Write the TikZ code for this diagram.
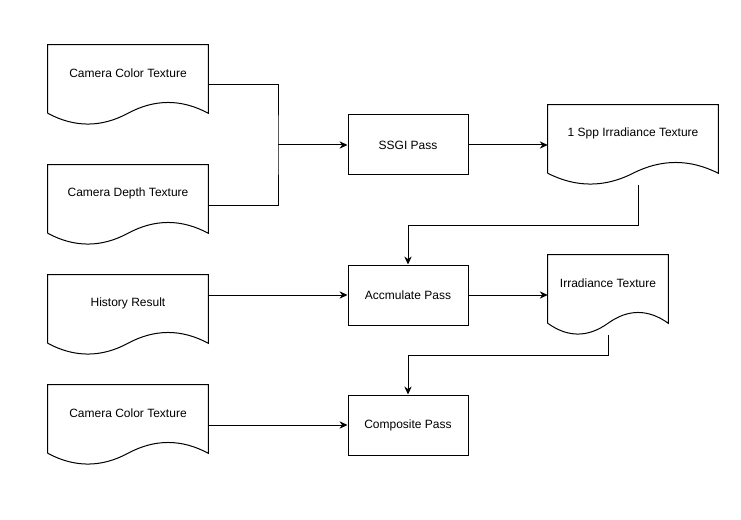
\documentclass[tikz,border=0pt]{standalone}
\usepackage{fontspec}
\setmainfont{Liberation Sans}
\usetikzlibrary{arrows.meta,calc}

\tikzset{
    flow/.style={line width=0.75pt, -{Stealth[length=6pt,width=5.5pt]}},
    pass/.style={draw, line width=0.75pt, minimum width=90pt, minimum height=45pt, inner sep=0pt, font=\fontsize{9pt}{11pt}\selectfont},
    texbox/.style={minimum height=60pt, inner sep=0pt},
    texlabel/.style={font=\fontsize{9pt}{11pt}\selectfont, yshift=9pt}
}

% document outline with the wavy bottom edge
\newcommand{\docoutline}[1]{%
    \draw[line width=0.75pt]
        ($(#1.south west)+(0,-12)$) -- (#1.north west) -- (#1.north east)
        -- ($(#1.south east)+(0,-12)$)
        .. controls ($(#1.south east)!1/6!(#1.south west)+(0,-26.4)$)
                and ($(#1.south east)!1/3!(#1.south west)+(0,-26.4)$)
        .. ($(#1.south)+(0,-12)$)
        .. controls ($(#1.south east)!2/3!(#1.south west)+(0,2.4)$)
                and ($(#1.south east)!5/6!(#1.south west)+(0,2.4)$)
        .. ($(#1.south west)+(0,-12)$);
}

\begin{document}
\begin{tikzpicture}[x=0.75pt, y=-0.75pt]
    \useasboundingbox (0,0) rectangle (741,520);

    % Input textures
    \node[texbox, minimum width=120pt, label={[texlabel]center:Camera Color Texture}] (colorA) at (128,85) {};
    \node[texbox, minimum width=120pt, label={[texlabel]center:Camera Depth Texture}] (depth) at (128,205) {};
    \node[texbox, minimum width=120pt, label={[texlabel]center:History Result}] (history) at (128,315) {};
    \node[texbox, minimum width=120pt, label={[texlabel]center:Camera Color Texture}] (colorB) at (128,425) {};

    % Passes
    \node[pass] (ssgi) at (408,145) {SSGI Pass};
    \node[pass] (accum) at (408,295) {Accmulate Pass};
    \node[pass] (composite) at (408,425) {Composite Pass};

    % Output textures
    \node[texbox, minimum width=127.5pt, label={[texlabel]center:1 Spp Irradiance Texture}] (spp) at (633,145) {};
    \node[texbox, minimum width=90pt, label={[texlabel]center:Irradiance Texture}] (irradiance) at (608,295) {};

    \foreach \n in {colorA,depth,history,colorB,spp,irradiance} {
        \docoutline{\n}
    }

    % Connectors
    \coordinate (merge) at (278,145);
    \draw[line width=0.75pt] (colorA.east) -| (merge) |- (depth.east);
    \draw[flow] (merge) -- (ssgi.west);
    \draw[flow] (ssgi.east) -- (spp.west);
    \draw[flow] ([xshift=3.75pt]spp.south) -- ++(0,40) -| (accum.north);
    \draw[flow] ([yshift=15pt]history.east) -- ([yshift=15pt]history.east -| accum.west);
    \draw[flow] (accum.east) -- (irradiance.west);
    \draw[flow] (irradiance.south) -- ++(0,20) -| (composite.north);
    \draw[flow] (colorB.east) -- (composite.west);
\end{tikzpicture}
\end{document}
